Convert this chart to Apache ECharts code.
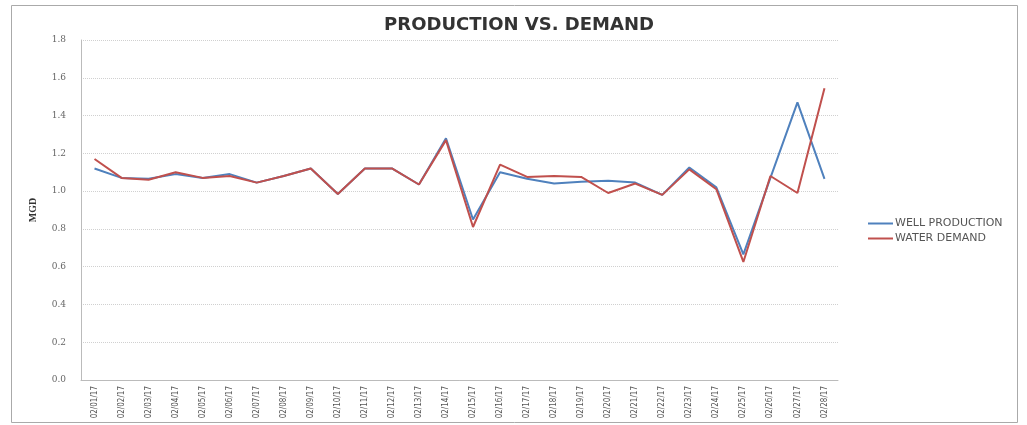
<!DOCTYPE html>
<html>
<head>
<meta charset="utf-8">
<script src="https://cdn.jsdelivr.net/npm/echarts@6/dist/echarts.min.js"></script>
<style>
  html, body { margin: 0; padding: 0; background: #fff; }
  #chart { width: 1027px; height: 425px; }
</style>
</head>
<body>
<div id="chart"></div>
<script>
// dates on the x axis
const days = [
  '02/01/17', '02/02/17', '02/03/17', '02/04/17', '02/05/17', '02/06/17', '02/07/17',
  '02/08/17', '02/09/17', '02/10/17', '02/11/17', '02/12/17', '02/13/17', '02/14/17',
  '02/15/17', '02/16/17', '02/17/17', '02/18/17', '02/19/17', '02/20/17', '02/21/17',
  '02/22/17', '02/23/17', '02/24/17', '02/25/17', '02/26/17', '02/27/17', '02/28/17'
]

// MGD
const wellProduction = [
  1.12, 1.07, 1.065, 1.09, 1.07, 1.09, 1.045,
  1.08, 1.12, 0.985, 1.12, 1.12, 1.035, 1.28,
  0.85, 1.10, 1.065, 1.04, 1.05, 1.055, 1.045,
  0.98, 1.125, 1.02, 0.665, 1.07, 1.47, 1.065
]
const waterDemand = [
  1.17, 1.07, 1.06, 1.10, 1.07, 1.08, 1.045,
  1.08, 1.12, 0.985, 1.12, 1.12, 1.035, 1.27,
  0.81, 1.14, 1.075, 1.08, 1.075, 0.99, 1.04,
  0.98, 1.115, 1.01, 0.625, 1.08, 0.99, 1.545
]

const yTicks = { min: 0, max: 1.8, step: 0.2 }

const chart = echarts.init(document.getElementById('chart'))
const option = {
  animation: false,
  title: {
    text: 'PRODUCTION VS. DEMAND',
    left: 514,
    textAlign: 'center',
    top: 11,
    textStyle: {
      fontFamily: 'DejaVu Sans',
      fontWeight: 'bold',
      fontSize: 18,
      color: '#333'
    }
  },
  legend: {
    orient: 'vertical',
    left: 863,
    top: 213,
    itemWidth: 25,
    itemHeight: 2,
    itemGap: 4,
    icon: 'rect',
    textStyle: { fontFamily: 'DejaVu Sans', fontSize: 11, color: '#555', padding: [0, 0, 0, -3] },
    data: ['WELL PRODUCTION', 'WATER DEMAND']
  },
  grid: {
    left: 81,
    right: 189,
    top: 40,
    bottom: 45
  },
  xAxis: {
    type: 'category',
    data: days,
    boundaryGap: true,
    axisLine: { lineStyle: { color: '#bbb' } },
    axisTick: { show: false },
    axisLabel: {
      rotate: 90,
      interval: 0,
      margin: 6,
      fontFamily: 'DejaVu Sans Condensed',
      fontSize: 8,
      color: '#555'
    }
  },
  yAxis: {
    type: 'value',
    name: 'MGD',
    nameLocation: 'middle',
    nameRotate: 90,
    nameGap: 43,
    nameTextStyle: { fontFamily: 'Liberation Sans Narrow', fontWeight: 'bold', fontSize: 10, color: '#333' },
    min: yTicks.min,
    max: yTicks.max,
    interval: yTicks.step,
    axisLine: { show: true, lineStyle: { color: '#bbb' } },
    axisTick: { show: false },
    axisLabel: {
      margin: 15,
      fontFamily: 'DejaVu Serif',
      fontSize: 9,
      color: '#666',
      formatter: (v) => v.toFixed(1)
    },
    splitLine: { lineStyle: { color: '#d0d0d0', type: 'dotted' } }
  },
  series: [
    {
      name: 'WELL PRODUCTION',
      type: 'line',
      data: wellProduction,
      showSymbol: false,
      lineStyle: { width: 2, color: '#4F81BD' },
      itemStyle: { color: '#4F81BD' }
    },
    {
      name: 'WATER DEMAND',
      type: 'line',
      data: waterDemand,
      showSymbol: false,
      lineStyle: { width: 2, color: '#C0504D' },
      itemStyle: { color: '#C0504D' }
    }
  ],
  graphic: [
    {
      type: 'rect',
      shape: { x: 11.5, y: 5.5, width: 1006, height: 417 },
      style: { fill: 'none', stroke: '#aaa', lineWidth: 1 },
      silent: true
    }
  ]
}
chart.setOption(option)
</script>
</body>
</html>
